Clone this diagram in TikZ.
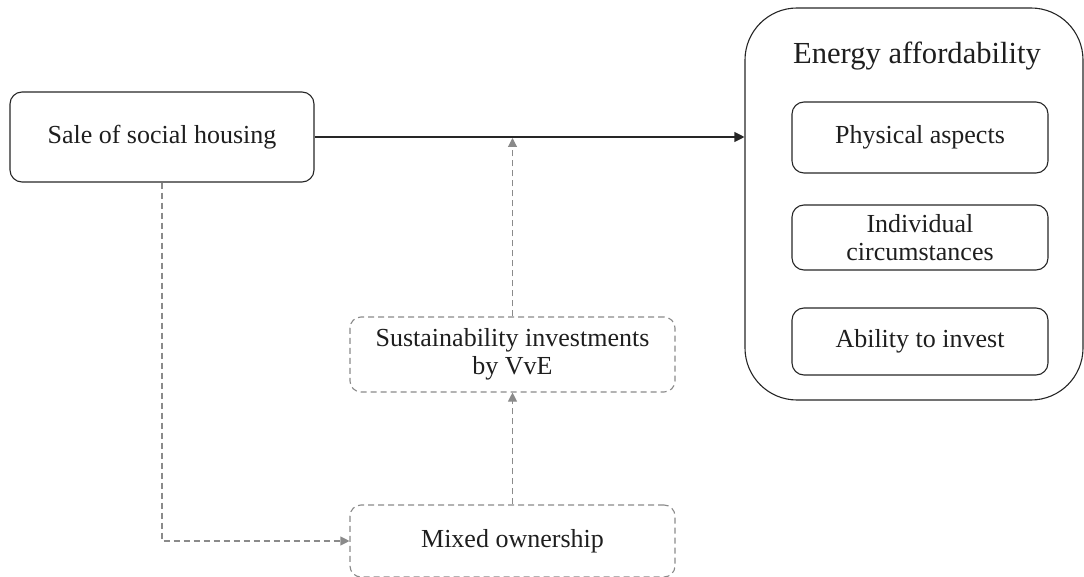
\documentclass[tikz,border=0pt]{standalone}
\usepackage{fontspec}
\setmainfont{Liberation Serif}
\usetikzlibrary{arrows.meta}
\definecolor{dgray}{HTML}{8A8A8A}
\definecolor{txt}{HTML}{1E1E1E}
\begin{document}
\begin{tikzpicture}[x=1pt,y=-1pt,
  box/.style={draw=black!85, line width=1.1pt, rounded corners=12pt, align=center, inner sep=0pt, text=txt,
    font=\fontsize{26}{27.5}\selectfont},
  dbox/.style={box, draw=dgray, dash pattern=on 6pt off 4pt, rounded corners=11pt},
  solidarrow/.style={line width=1.1pt, draw=black!85, -{Triangle[length=10pt,width=10pt]}},
  dasharrow/.style={line width=1.1pt, draw=dgray, dash pattern=on 6pt off 4pt, -{Triangle[length=9pt,width=9pt,fill=dgray]}}]
\useasboundingbox (0,0) rectangle (1084,577);
\node[box, minimum width=304pt, minimum height=90pt] (sale) at (162,137) {Sale of social housing};
\node[box, rounded corners=52pt, minimum width=338pt, minimum height=392pt] (energy) at (914,204) {};
\node[text=txt, font=\fontsize{30.6}{33}\selectfont, inner sep=0pt] (title) at (917,56) {Energy affordability};
\node[box, minimum width=256pt, minimum height=71pt] (phys) at (920,137.5) {Physical aspects};
\node[box, minimum width=256pt, minimum height=65pt] (indiv) at (920,237.5) {Individual\\circumstances};
\node[box, minimum width=256pt, minimum height=67pt] (abil) at (920,341.5) {Ability to invest};
\node[dbox, minimum width=325pt, minimum height=75pt] (sust) at (512.5,354.5) {Sustainability investments\\by VvE};
\node[dbox, minimum width=325pt, minimum height=72pt] (mixed) at (512.5,541) {Mixed ownership};
\coordinate (hit) at (sust.north |- sale.east);
\draw[solidarrow] (sale.east) -- (sale.east -| energy.west);
\draw[dasharrow] (sust.north) -- ([yshift=-1pt]hit);
\draw[dasharrow] (mixed.north) -- (sust.south);
\draw[dasharrow] (sale.south) |- (mixed.west);
\end{tikzpicture}
\end{document}
